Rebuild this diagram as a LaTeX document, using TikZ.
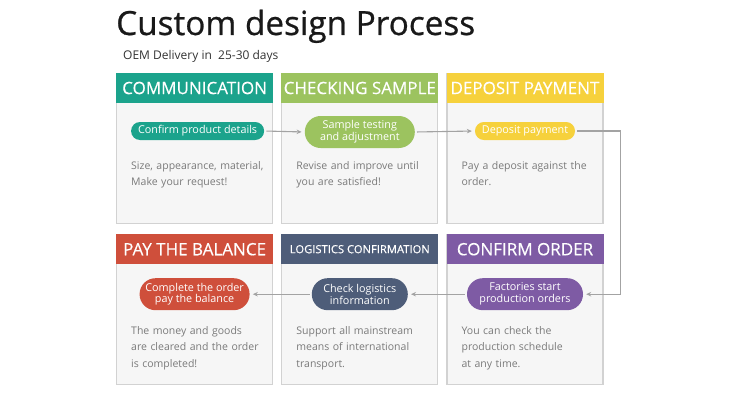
\documentclass[tikz,border=0pt]{standalone}
\usepackage{fontspec}
\setmainfont{Open Sans}
\newfontfamily\heavyfont{Open Sans}[FakeBold=0.7]
\newfontfamily\mediumfont{Open Sans}[FakeBold=0.3]
\usepackage{xcolor}
\usepackage{tikz}
\usetikzlibrary{arrows.meta,positioning,calc}
\definecolor{commteal}{HTML}{1BA38C}
\definecolor{samplegreen}{HTML}{9CC35F}
\definecolor{deposityellow}{HTML}{F6D13C}
\definecolor{balancered}{HTML}{CF4F3B}
\definecolor{logislate}{HTML}{4E5D79}
\definecolor{orderpurple}{HTML}{7E5BA4}
\definecolor{cardfill}{HTML}{F6F6F6}
\definecolor{cardline}{HTML}{D2D2D2}
\definecolor{bodygrey}{HTML}{7A7A7A}
\definecolor{flowgrey}{HTML}{A3A3A3}
\tikzset{
  card/.style={draw=cardline, line width=1.2pt, fill=cardfill, minimum width=156pt, minimum height=150pt, inner sep=0pt},
  cardhead/.style={fill=#1, minimum width=157pt, minimum height=30pt, inner sep=0pt, outer sep=0pt, text=white, font=\mediumfont\fontsize{17}{20}\selectfont},
  pill/.style={fill=#1, text=white, align=center, inner xsep=2pt, inner ysep=0pt, minimum height=18pt, rounded corners=8.9pt, font=\fontsize{10.8}{11.8}\selectfont},
  pilltall/.style={pill=#1, minimum height=32pt, rounded corners=15.9pt},
  bodytext/.style={text=bodygrey, align=left, text width=145pt, inner sep=0pt, font=\fontsize{10.5}{16.6}\selectfont},
  flow/.style={-{Stealth[length=5pt, width=4.5pt]}, line width=1.1pt, flowgrey, shorten <=2pt, shorten >=3pt},
}

\begin{document}
\begin{tikzpicture}[x=1pt, y=1pt]
  \useasboundingbox (0,0) rectangle (750,400);
  % title
  \node[anchor=base west, inner sep=0pt, font=\heavyfont\fontsize{33.3}{36}\selectfont, text=black!90] (title) at (116,365) {Custom design Process};
  \node[anchor=base west, inner sep=0pt, font=\fontsize{12}{14}\selectfont, text=black!80] (sub) at (123,341) {OEM Delivery in\ \ 25-30 days};
  % row 1
  \node[card, anchor=north west] (c1) at (116,327) {};
  \node[card, right=8pt of c1] (c2) {};
  \node[card, right=8pt of c2] (c3) {};
  % row 2
  \node[card, below=10pt of c1] (c4) {};
  \node[card, right=8pt of c4] (c5) {};
  \node[card, right=8pt of c5] (c6) {};
  % headers
  \node[cardhead=commteal, below=0pt of c1.north] (h1) {COMMUNICATION};
  \node[cardhead=samplegreen, below=0pt of c2.north] (h2) {CHECKING SAMPLE};
  \node[cardhead=deposityellow, below=0pt of c3.north] (h3) {DEPOSIT PAYMENT};
  \node[cardhead=balancered, below=0pt of c4.north] (h4) {PAY THE BALANCE};
  \node[cardhead=logislate, below=0pt of c5.north, font=\mediumfont\fontsize{11.2}{13}\selectfont] (h5) {LOGISTICS CONFIRMATION};
  \node[cardhead=orderpurple, below=0pt of c6.north] (h6) {CONFIRM ORDER};
  % steps
  \node[pill=commteal, minimum width=133pt] (p1) at ([xshift=3pt, yshift=-58pt]c1.north) {Confirm product details};
  \node[pilltall=samplegreen, minimum width=110pt] (p2) at ([yshift=-59pt]c2.north) {Sample testing\\and adjustment};
  \node[pill=deposityellow, minimum width=100pt] (p3) at ([yshift=-58pt]c3.north) {Deposit payment};
  \node[pilltall=balancered, minimum width=110pt] (p4) at ([yshift=-60pt]c4.north) {Complete the order\\pay the balance};
  \node[pilltall=logislate, minimum width=96pt] (p5) at ([yshift=-60pt]c5.north) {Check logistics\\information};
  \node[pilltall=orderpurple, minimum width=116pt] (p6) at ([yshift=-60pt]c6.north) {Factories start\\production orders};
  % notes
  \node[bodytext, below right=88pt and 15pt of c1.north west] (t1) {Size, appearance, material,\\Make your request!};
  \node[bodytext, below right=88pt and 15pt of c2.north west] (t2) {Revise and improve until\\you are satisfied!};
  \node[bodytext, below right=88pt and 15pt of c3.north west] (t3) {Pay a deposit against the\\order.};
  \node[bodytext, below right=92pt and 15pt of c4.north west] (t4) {The money and goods\\are cleared and the order\\is completed!};
  \node[bodytext, below right=92pt and 15pt of c5.north west] (t5) {Support all mainstream\\means of international\\transport.};
  \node[bodytext, below right=92pt and 15pt of c6.north west] (t6) {You can check the\\production schedule\\at any time.};
  % arrows
  \coordinate (bend) at ([xshift=45pt]p3.east);
  \draw[flow] (p1.east) -- (p2.west);
  \draw[flow] (p2.east) -- (p3.west);
  \draw[flow] (p3.east) -- (bend) |- (p6.east);
  \draw[flow] (p6.west) -- (p5.east);
  \draw[flow] (p5.west) -- (p4.east);
\end{tikzpicture}
\end{document}
